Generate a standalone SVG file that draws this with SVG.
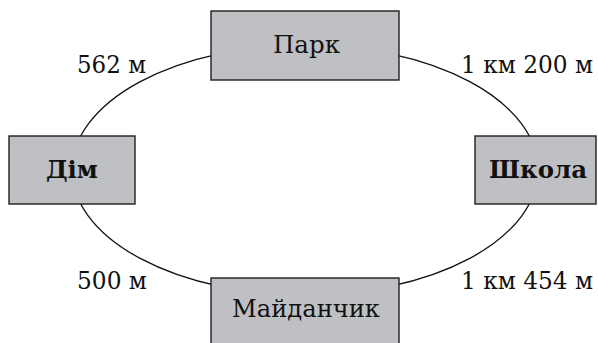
<svg xmlns="http://www.w3.org/2000/svg" width="598" height="343" viewBox="0 0 598 343">
<style>
.box{fill:#bfc0c4;stroke:#1e1e1e;stroke-width:1.4}
.lbl{font-family:"DejaVu Serif","Liberation Serif",serif;font-size:25px;fill:#111}
.dist{font-size:24px}
.b{font-weight:bold}
.edge{fill:none;stroke:#111;stroke-width:1.3}
</style>
<rect width="598" height="343" fill="#fff"/>
<g id="connectors">
<ellipse class="edge" cx="305" cy="170" rx="233" ry="125"/>
</g>
<g id="edge-labels">
<text class="lbl dist" x="77" y="73" textLength="69" lengthAdjust="spacingAndGlyphs">562 м</text>
<text class="lbl dist" x="461" y="73" textLength="132" lengthAdjust="spacingAndGlyphs">1 км 200 м</text>
<text class="lbl dist" x="77" y="289" textLength="70" lengthAdjust="spacingAndGlyphs">500 м</text>
<text class="lbl dist" x="461" y="289" textLength="132" lengthAdjust="spacingAndGlyphs">1 км 454 м</text>
</g>
<g id="park">
<rect class="box" x="211" y="11" width="188" height="69"/>
<text class="lbl" x="273" y="53" textLength="67" lengthAdjust="spacingAndGlyphs">Парк</text>
</g>
<g id="dim">
<rect class="box" x="9" y="136" width="126" height="68"/>
<text class="lbl b" x="46" y="178" textLength="52" lengthAdjust="spacingAndGlyphs">Дім</text>
</g>
<g id="shkola">
<rect class="box" x="475" y="136" width="121" height="68"/>
<text class="lbl b" x="489" y="178" textLength="98" lengthAdjust="spacingAndGlyphs">Школа</text>
</g>
<g id="maidanchyk">
<rect class="box" x="211" y="278" width="188" height="67"/>
<text class="lbl" x="232" y="317" textLength="148" lengthAdjust="spacingAndGlyphs">Майданчик</text>
</g>
</svg>
